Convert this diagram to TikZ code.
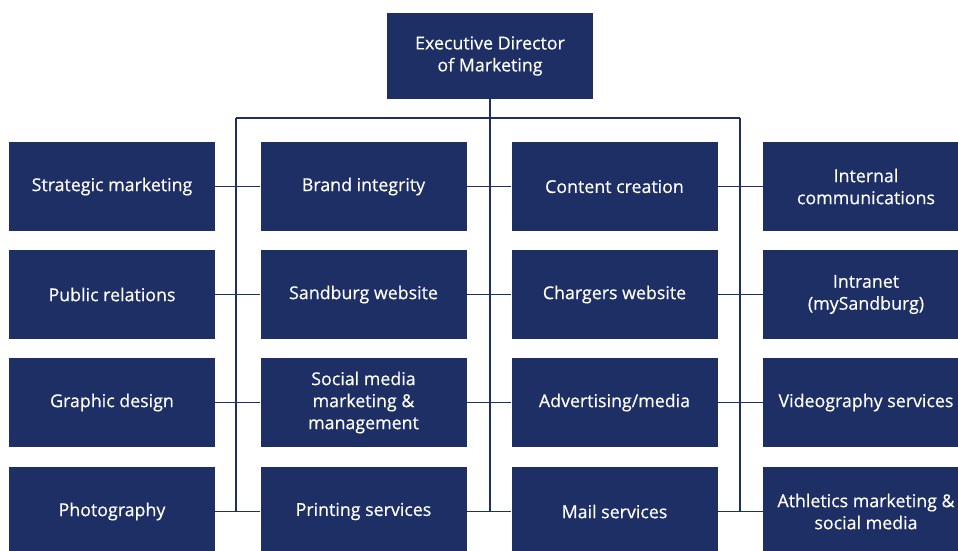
\documentclass[tikz,border=0pt]{standalone}
\usepackage{fontspec}
\setmainfont{Open Sans}[FakeBold=0.4]
\definecolor{navy}{HTML}{1E2F66}
\begin{document}
\begin{tikzpicture}[x=1pt,y=-1pt,
  unit/.style={rectangle, fill=navy, text=white, align=center, inner sep=0pt,
    minimum width=206pt, minimum height=89pt,
    font=\fontsize{17.8}{22}\selectfont},
  link/.style={draw=navy, line width=1.3pt}]
\useasboundingbox (0,0) rectangle (958,550);
\fill[white] (0,0) rectangle (958,550);

% head of department
\node[unit, minimum height=86pt] (head) at (490,56) {Executive Director\\of Marketing};

% four columns of teams
\node[unit] (a1) at (112,186.5) {Strategic marketing};
\node[unit] (a2) at (112,294.5) {Public relations};
\node[unit] (a3) at (112,402.5) {Graphic design};
\node[unit] (a4) at (112,511.5) {Photography};

\node[unit] (b1) at (363.5,186.5) {Brand integrity};
\node[unit] (b2) at (363.5,294.5) {Sandburg website};
\node[unit] (b3) at (363.5,402.5) {Social media\\marketing \&\\management};
\node[unit] (b4) at (363.5,511.5) {Printing services};

\node[unit] (c1) at (614.5,186.5) {Content creation};
\node[unit] (c2) at (614.5,294.5) {Chargers website};
\node[unit] (c3) at (614.5,402.5) {Advertising/media};
\node[unit] (c4) at (614.5,511.5) {Mail services};

\node[unit] (d1) at (866,186.5) {Internal\\communications};
\node[unit] (d2) at (866,294.5) {Intranet\\(mySandburg)};
\node[unit] (d3) at (866,402.5) {Videography services};
\node[unit] (d4) at (866,511.5) {Athletics marketing \&\\social media};

% trunk and branches
\coordinate (busL) at (236,118);
\coordinate (busM) at (490,118);
\coordinate (busR) at (740,118);
\coordinate (endL) at (236,511.5);
\coordinate (endM) at (490,511.5);
\coordinate (endR) at (740,511.5);

\draw[link] (head.south) -- (busM);
\draw[link] (busL) -- (busR);
\draw[link] (busL) -- (endL);
\draw[link] (busM) -- (endM);
\draw[link] (busR) -- (endR);

\foreach \r in {1,2,3,4}{
  \draw[link] (a\r.east) -- (b\r.west);
  \draw[link] (b\r.east) -- (c\r.west);
  \draw[link] (c\r.east) -- (d\r.west);
}
\end{tikzpicture}
\end{document}
